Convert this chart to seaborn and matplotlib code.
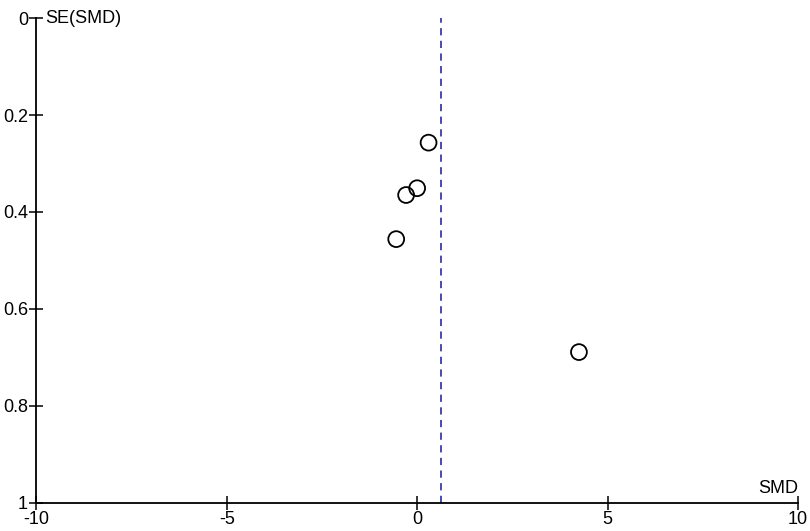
import matplotlib
matplotlib.use("Agg")
import matplotlib.pyplot as plt
import seaborn as sns
import pandas as pd

smd = [0.30, 0.00, -0.29, -0.55, 4.25]
se = [0.257, 0.351, 0.365, 0.456, 0.689]
pooled_smd = 0.62
x_ticks = [-10, -5, 0, 5, 10]
y_ticks = [0, 0.2, 0.4, 0.6, 0.8, 1]
y_tick_labels = ["0", "0.2", "0.4", "0.6", "0.8", "1"]

sns.set_style("white")
plt.rcParams['font.family'] = ['Liberation Sans', 'DejaVu Sans']

df = pd.DataFrame({"SMD": smd, "SE": se})

fig = plt.figure(figsize=(8.1, 5.31), dpi=100)
ax = fig.add_axes([0.045, 0.053, 0.94, 0.913])

sns.scatterplot(data=df, x="SMD", y="SE", ax=ax, s=130, facecolor="none",
                edgecolor="black", linewidth=1.3, zorder=3)
ax.axvline(pooled_smd, color="#3a3ab0", linestyle=(0, (4, 3)), linewidth=1.3, zorder=2)

ax.set_xlim(-10, 10)
ax.set_ylim(1, 0)
ax.set_xticks(x_ticks)
ax.set_xticklabels([str(t) for t in x_ticks])
ax.set_yticks(y_ticks)
ax.set_yticklabels(y_tick_labels)
ax.set_xlabel("")
ax.set_ylabel("")
for s in ["top", "right"]:
    ax.spines[s].set_visible(False)
for s in ["left", "bottom"]:
    ax.spines[s].set_color("black")
    ax.spines[s].set_linewidth(1.3)
ax.tick_params(bottom=True, left=True, direction="inout", length=10, width=1.1,
               labelsize=13, colors="black", pad=1)

ax.text(0.012, 1.0, "SE(SMD)", transform=ax.transAxes, fontsize=13, va="center", ha="left", color="black")
ax.text(1.0, 0.012, "SMD", transform=ax.transAxes, fontsize=13, va="bottom", ha="right", color="black")

fig.savefig("out.png", dpi=100)
